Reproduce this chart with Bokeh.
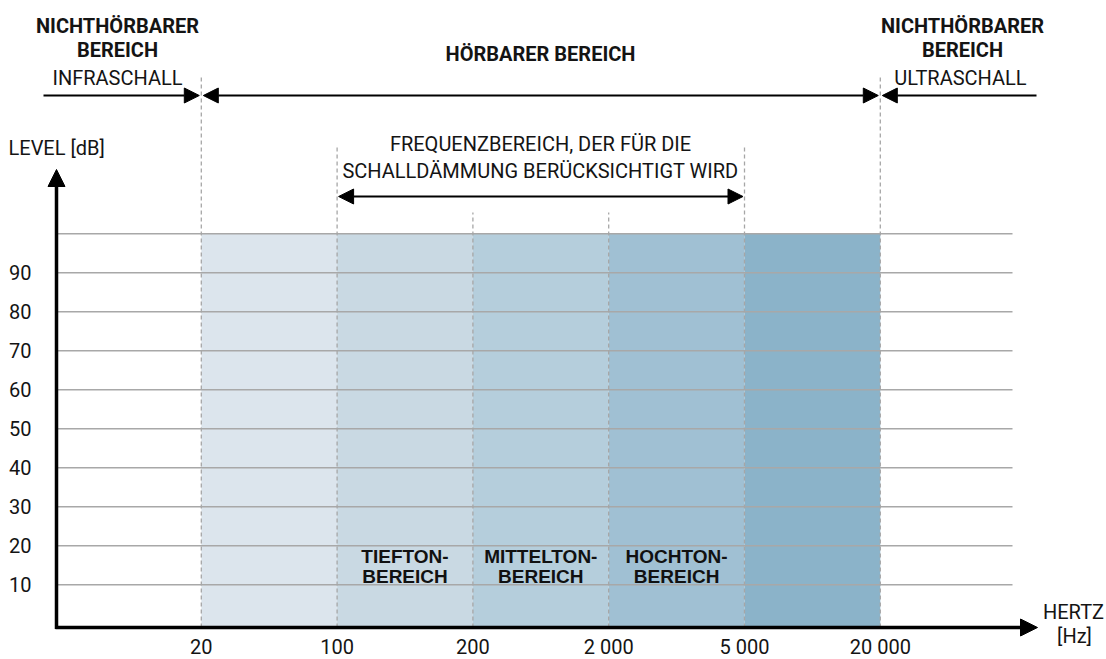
from bokeh.plotting import figure
from bokeh.models import Range1d, Arrow, NormalHead
from bokeh.core.properties import value
from bokeh.embed import file_html
from bokeh.resources import INLINE

# ---------------- data ----------------
freq_labels = ["20", "100", "200", "2 000", "5 000", "20 000"]
freq_pos = [1, 2, 3, 4, 5, 6]            # evenly spaced category positions
band_colors = ["#dce5ed", "#c9d9e3", "#b5cedc", "#a0c0d3", "#8bb3c9"]
band_top_line = ["TIEFTON-", "MITTELTON-", "HOCHTON-"]
band_bottom_line = ["BEREICH", "BEREICH", "BEREICH"]
band_label_index = [1, 2, 3]             # which bands carry a label
level_ticks = [10, 20, 30, 40, 50, 60, 70, 80, 90]
level_max = 100
hearing_range = [1, 6]                   # 20 Hz .. 20 000 Hz
insulation_range = [2, 5]                # 100 Hz .. 5 000 Hz

# ---------------- layout helpers ----------------
W, H, M = 1106, 659, 0
PX_X, X0 = 135.8, 200.8      # px per category step, page x of first boundary
PX_Y, Y0 = 3.9, 623.3        # px per dB, page y of 0 dB

def dx(px):
    return 1 + (px - X0) / PX_X

def dy(py):
    return (Y0 - py) / PX_Y

x_start = dx(M)
x_end = x_start + W / PX_X
y_end = dy(M)
y_start = y_end - H / PX_Y

p = figure(width=W, height=H, output_backend="svg", toolbar_location=None,
           x_range=Range1d(x_start, x_end), y_range=Range1d(y_start, y_end),
           min_border=0)
p.axis.visible = False
p.grid.visible = False
p.outline_line_color = None
p.background_fill_color = "white"

COND = value("Roboto")
ARIAL = value("Liberation Sans")
TXT = "#141414"
FS = "20px"
FSB = "20px"
base_y = dy(627)

# bands
p.quad(left=freq_pos[:-1], right=freq_pos[1:], bottom=base_y, top=level_max,
       fill_color=band_colors, line_color=None)

# horizontal gridlines
grid_levels = level_ticks + [level_max]
p.segment(x0=[dx(57)] * len(grid_levels), x1=[dx(1012)] * len(grid_levels),
          y0=grid_levels, y1=grid_levels, line_color="#a8a8a8", line_width=1.5)

# dashed vertical boundary lines
tops = [dy(75), dy(145), dy(212), dy(212), dy(145), dy(75)]
p.segment(x0=freq_pos, x1=freq_pos, y0=[base_y] * len(freq_pos), y1=tops,
          line_color="#a6a6a6", line_width=1.3, line_dash="4 3")

# axes with arrows
ax_head = dict(size=17, fill_color="black", line_color="black")
p.add_layout(Arrow(x_start=dx(56), y_start=base_y - 0.4, x_end=dx(56), y_end=dy(169),
                   line_width=3.5, line_color="black", end=NormalHead(**ax_head)))
p.add_layout(Arrow(x_start=dx(55), y_start=base_y, x_end=dx(1037), y_end=base_y,
                   line_width=3.5, line_color="black", end=NormalHead(**ax_head)))

# y tick labels
p.text(x=[dx(31)] * len(level_ticks), y=level_ticks, text=[str(v) for v in level_ticks],
       text_font=COND, text_font_size=FS, text_align="right",
       text_baseline="middle", text_color=TXT)

# x tick labels
p.text(x=freq_pos, y=[dy(646)] * len(freq_pos), text=freq_labels,
       text_font=COND, text_font_size=FS, text_align="center",
       text_baseline="middle", text_color=TXT)

# axis titles
p.text(x=[dx(8)], y=[dy(147)], text=["LEVEL [dB]"], text_font=COND,
       text_font_size=FS, text_align="left", text_baseline="middle", text_color=TXT)
p.text(x=[dx(1073), dx(1074)], y=[dy(611), dy(635)], text=["HERTZ", "[Hz]"],
       text_font=COND, text_font_size=FS, text_align="center",
       text_baseline="middle", text_color=TXT)

# top arrows (audible / inaudible)
ya = dy(95)
g = 2.0 / PX_X
hd = dict(size=15, fill_color="black", line_color="black")
p.add_layout(Arrow(x_start=dx(43), y_start=ya, x_end=hearing_range[0] - g, y_end=ya,
                   line_width=2, end=NormalHead(**hd)))
p.add_layout(Arrow(x_start=hearing_range[0] + g, y_start=ya, x_end=hearing_range[1] - g, y_end=ya,
                   line_width=2, start=NormalHead(**hd), end=NormalHead(**hd)))
p.add_layout(Arrow(x_start=dx(1036), y_start=ya, x_end=hearing_range[1] + g, y_end=ya,
                   line_width=2, end=NormalHead(**hd)))

# insulation frequency range arrow
yf = dy(196)
g2 = 1.5 / PX_X
p.add_layout(Arrow(x_start=insulation_range[0] + g2, y_start=yf,
                   x_end=insulation_range[1] - g2, y_end=yf,
                   line_width=2, start=NormalHead(**hd), end=NormalHead(**hd)))

# header texts
p.text(x=[dx(117), dx(117), dx(962), dx(962), dx(540)],
       y=[dy(25), dy(49.5), dy(25), dy(49.5), dy(53)],
       text=["NICHTHÖRBARER", "BEREICH", "NICHTHÖRBARER", "BEREICH", "HÖRBARER BEREICH"],
       text_font=COND, text_font_size=FSB, text_font_style="bold",
       text_align="center", text_baseline="middle", text_color=TXT)
p.text(x=[dx(117), dx(960)], y=[dy(77), dy(77)], text=["INFRASCHALL", "ULTRASCHALL"],
       text_font=COND, text_font_size=FS, text_align="center",
       text_baseline="middle", text_color=TXT)
p.text(x=[dx(540), dx(540)], y=[dy(143.5), dy(170)],
       text=["FREQUENZBEREICH, DER FÜR DIE", "SCHALLDÄMMUNG BERÜCKSICHTIGT WIRD"],
       text_font=COND, text_font_size=FS, text_align="center",
       text_baseline="middle", text_color=TXT)

# band labels
mids = [(freq_pos[i] + freq_pos[i + 1]) / 2 for i in band_label_index]
p.text(x=mids, y=[dy(556)] * 3, text=band_top_line, text_font=ARIAL,
       text_font_size="19px", text_font_style="bold", text_align="center",
       text_baseline="middle", text_color="#111111")
p.text(x=mids, y=[dy(575.5)] * 3, text=band_bottom_line, text_font=ARIAL,
       text_font_size="19px", text_font_style="bold", text_align="center",
       text_baseline="middle", text_color="#111111")

open("out.html", "w").write(file_html(p, INLINE))
